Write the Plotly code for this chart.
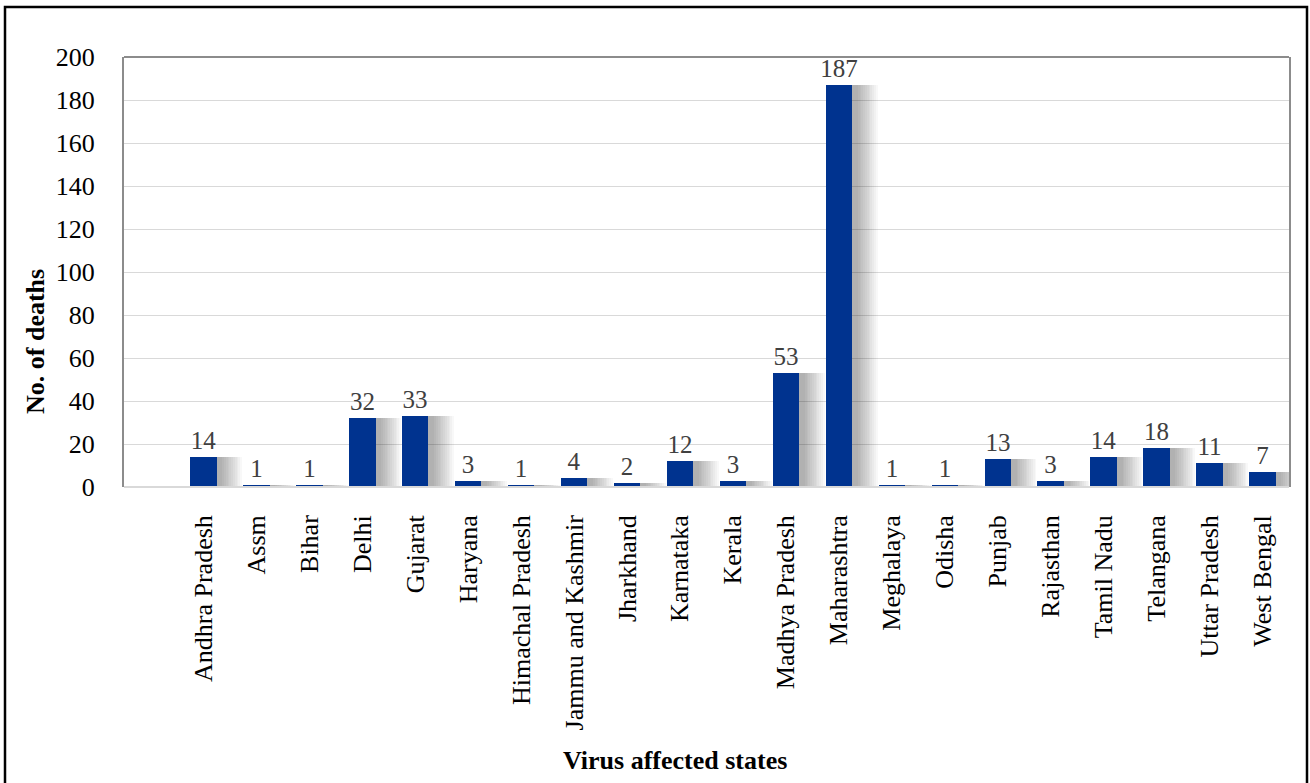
import plotly.graph_objects as go

states = ["Andhra Pradesh", "Assm", "Bihar", "Delhi", "Gujarat", "Haryana",
          "Himachal Pradesh", "Jammu and Kashmir", "Jharkhand", "Karnataka",
          "Kerala", "Madhya Pradesh", "Maharashtra", "Meghalaya", "Odisha",
          "Punjab", "Rajasthan", "Tamil Nadu", "Telangana", "Uttar Pradesh",
          "West Bengal"]
deaths = [14, 1, 1, 32, 33, 3, 1, 4, 2, 12, 3, 53, 187, 1, 1, 13, 3, 14, 18, 11, 7]
y_ticks = [0, 20, 40, 60, 80, 100, 120, 140, 160, 180, 200]

# first slot of the category axis is blank in the original chart
xpos = list(range(1, len(states) + 1))

FONT = "Liberation Serif, Times New Roman, serif"
BAR = "#00338f"

W, H = 1310, 783
PL, PR, PT, PB = 124, 1289, 57, 487
PW, PH = PR - PL, PB - PT


def px_x(x):
    return (x - PL) / PW


def px_y(y):
    return (PB - y) / PH


fig = go.Figure()

# soft drop shadow layers
n_layers = 12
for i in range(n_layers):
    w = 0.96 - i * 0.038
    fig.add_trace(go.Bar(
        x=xpos, y=deaths, width=w, offset=-0.25 + 0.02 + i * 0.004,
        marker=dict(color="rgba(0,0,0,0.026)", line=dict(width=0)),
        hoverinfo="skip", showlegend=False,
    ))

fig.add_trace(go.Bar(
    x=xpos, y=deaths, width=0.5, offset=-0.25,
    marker=dict(color=BAR, line=dict(width=0)),
    text=[str(v) for v in deaths], textposition="outside",
    textfont=dict(family=FONT, size=25, color="#404040"),
    constraintext="none", cliponaxis=False, showlegend=False,
))

fig.update_layout(
    width=W, height=H,
    margin=dict(l=PL, r=W - PR, t=PT, b=H - PB),
    paper_bgcolor="white", plot_bgcolor="white",
    barmode="overlay", bargap=0,
    font=dict(family=FONT, size=26, color="black"),
    xaxis=dict(
        range=[-0.5, 21.5], tickmode="array", tickvals=xpos, ticktext=states,
        tickangle=-90, showgrid=False, showline=False, zeroline=False,
        ticks="", ticklabelstandoff=22,
        tickfont=dict(family=FONT, size=26, color="black"),
    ),
    yaxis=dict(
        range=[0, 200], tickmode="array", tickvals=y_ticks,
        showgrid=True, gridcolor="#d9d9d9", gridwidth=1,
        showline=True, linecolor="#8c8c8c", linewidth=2, mirror=True,
        zeroline=False, ticks="", ticklabelstandoff=22,
        tickfont=dict(family=FONT, size=26, color="black"),
    ),
    shapes=[
        dict(type="line", xref="paper", yref="paper", x0=0, x1=1, y0=1, y1=1,
             line=dict(color="#8c8c8c", width=2)),
        dict(type="line", xref="paper", yref="paper", x0=0, x1=1, y0=0, y1=0,
             line=dict(color="#d9d9d9", width=2)),
        dict(type="rect", xref="paper", yref="paper",
             x0=px_x(5), x1=px_x(1307),
             y0=px_y(800), y1=px_y(7),
             line=dict(color="black", width=2.5)),
    ],
    annotations=[
        dict(text="<b>No. of deaths</b>", xref="paper", yref="paper",
             x=px_x(35), y=px_y(342), textangle=-90,
             showarrow=False, xanchor="center", yanchor="middle",
             font=dict(family=FONT, size=26, color="black")),
        dict(text="<b>Virus affected states</b>", xref="paper", yref="paper",
             x=px_x(675), y=px_y(760),
             showarrow=False, xanchor="center", yanchor="middle",
             font=dict(family=FONT, size=26, color="black")),
    ],
)

fig.write_html(
    "out.html",
    config={"displayModeBar": False},
    post_script="document.body.style.margin='0';document.body.style.overflow='hidden';",
)
